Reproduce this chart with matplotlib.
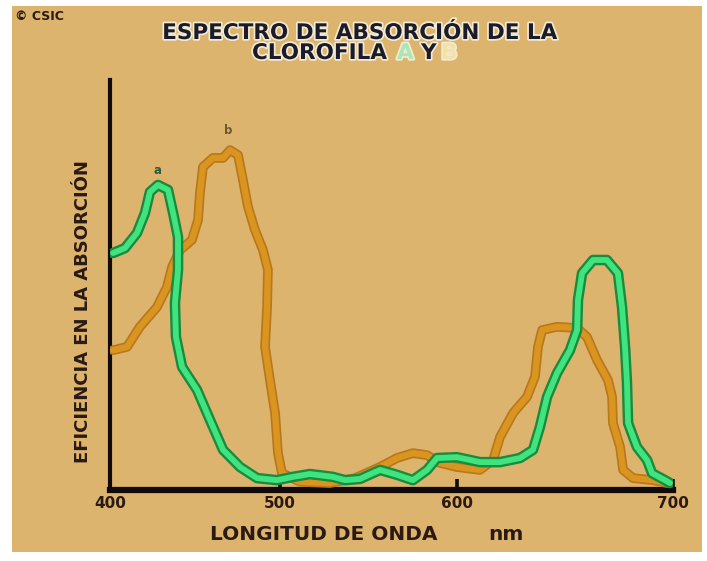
# =========================================================
# ESPECTRO DE ABSORCION DE LA CLOROFILA A Y B
# =========================================================

import numpy as np
import matplotlib
matplotlib.use("Agg")
import matplotlib.pyplot as plt
import matplotlib.patheffects as pe
from matplotlib.patches import Rectangle

# =========================================================
# DATA (wavelength in nm, arbitrary efficiency)
# =========================================================

chl_a_nm = [401.8, 408.8, 415.9, 420.6, 423.5, 428.2, 434.1, 437.1, 440.0, 440.0,
            438.2, 438.8, 442.4, 451.2, 458.8, 466.5, 476.5, 486.5, 498.2, 507.3,
            516.9, 529.9, 536.7, 545.2, 556.5, 566.1, 575.1, 583.1, 588.7, 600.0,
            610.6, 619.9, 629.2, 635.2, 638.4, 641.7, 646.3, 652.3, 655.6, 656.0,
            657.9, 663.0, 669.4, 674.5, 676.4, 677.8, 678.7, 679.2, 683.3, 688.0,
            690.3, 696.3, 698.6]
chl_a_eff = [57.8, 59.0, 62.7, 67.6, 72.7, 74.4, 73.2, 67.6, 61.7, 53.7,
             45.6, 37.3, 30.0, 24.4, 17.1, 9.8, 5.6, 2.9, 2.4, 3.2,
             3.9, 3.2, 2.4, 2.7, 4.9, 3.7, 2.4, 4.9, 7.8, 8.0,
             6.8, 6.8, 7.8, 9.8, 15.4, 22.7, 28.5, 34.1, 39.0, 46.3,
             52.9, 56.1, 56.1, 52.9, 44.6, 34.9, 26.1, 16.3, 10.5, 7.3,
             4.1, 2.4, 1.7]

chl_b_nm = [401.8, 410.0, 417.6, 427.6, 433.5, 436.5, 441.2, 448.2, 451.8, 452.9,
            454.7, 460.6, 466.5, 470.6, 475.3, 478.2, 481.2, 485.3, 490.0, 492.9,
            492.4, 491.2, 494.1, 497.1, 498.8, 501.1, 511.3, 528.2, 542.4, 556.5,
            566.1, 575.1, 583.1, 590.4, 600.0, 610.6, 616.7, 619.9, 626.0, 632.4,
            636.1, 637.5, 639.4, 646.3, 655.6, 660.2, 664.8, 669.9, 671.8, 672.2,
            675.5, 676.9, 681.5, 690.7, 697.2]
chl_b_eff = [34.1, 34.9, 39.8, 44.6, 49.5, 54.4, 58.5, 61.0, 65.9, 72.4,
             78.8, 81.0, 81.0, 82.9, 81.7, 75.6, 69.0, 63.4, 58.5, 53.7,
             44.6, 34.9, 26.8, 18.8, 9.0, 4.1, 2.0, 1.7, 2.9, 5.6,
             7.8, 9.0, 8.5, 6.6, 5.6, 4.9, 7.3, 12.9, 18.8, 22.7,
             27.6, 34.9, 39.0, 39.8, 39.5, 37.3, 31.7, 26.8, 22.7, 16.3,
             10.5, 4.9, 2.9, 2.4, 1.7]

x_ticks = [400, 500, 600, 700]
x_tick_labels = ["400", "500", "600", "700"]

# =========================================================
# AXIS CALIBRATION (hand-drawn axis: ticks are not evenly spaced)
# =========================================================

scale_nm = np.array([0.0, 400.0, 500.0, 600.0, 700.0, 1400.0])
scale_px = np.array([-680.0, 0.0, 170.0, 347.0, 563.0, 2075.0])


def fwd(x):
    return np.interp(x, scale_nm, scale_px)


def inv(p):
    return np.interp(p, scale_px, scale_nm)


# =========================================================
# FIGURE
# =========================================================

W, H = 707, 561
fig = plt.figure(figsize=(W / 100, H / 100), dpi=100)
fig.patch.set_facecolor("white")

paper = "#DDB46E"
ink = "#2A1A12"
fig.patches.append(Rectangle((12 / W, 9 / H), 690 / W, 546 / H,
                             transform=fig.transFigure, facecolor=paper,
                             edgecolor="none", zorder=-5))

ax = fig.add_axes([110 / W, (H - 490) / H, 563 / W, 410 / H])
ax.set_facecolor("none")
ax.set_zorder(2)
ax.set_xscale("function", functions=(fwd, inv))
ax.set_xlim(400, 700)
ax.set_ylim(0, 100)

# orange first, green drawn on top
ax.plot(chl_b_nm, chl_b_eff, color="#DA9420", lw=4.6,
        solid_joinstyle="round", solid_capstyle="round",
        path_effects=[pe.Stroke(linewidth=7.0, foreground="#B8771B"), pe.Normal()],
        zorder=3)
ax.plot(chl_a_nm, chl_a_eff, color="#3FE47E", lw=4.2,
        solid_joinstyle="round", solid_capstyle="round",
        path_effects=[pe.Stroke(linewidth=7.6, foreground="#1B8A3E"), pe.Normal()],
        zorder=4)

# peak letters
ax.text(428.2, 78.0, "a", ha="center", va="center", fontsize=8.5,
        fontweight="bold", color="#2E5B3C", zorder=5)
ax.text(469.5, 87.6, "b", ha="center", va="center", fontsize=8.5,
        fontweight="bold", color="#6E5A2E", zorder=5)

# =========================================================
# AXES STYLE
# =========================================================

for s in ["top", "right"]:
    ax.spines[s].set_visible(False)
ax.spines["left"].set_linewidth(3.0)
ax.spines["bottom"].set_linewidth(4.5)
ax.spines["left"].set_color("#120A08")
ax.spines["bottom"].set_color("#120A08")

ax.set_xticks(x_ticks)
ax.set_xticklabels(x_tick_labels)
ax.set_yticks([])
ax.tick_params(axis="x", direction="in", length=8, width=2.6,
               color="#120A08", pad=4, labelsize=11, labelcolor=ink)
for lab in ax.get_xticklabels():
    lab.set_fontweight("bold")
ax.xaxis.get_major_ticks()[0].tick1line.set_visible(False)

# axis titles placed where the drawing has them
fig.text(210 / W, 1 - 535 / H, "LONGITUD DE ONDA", ha="left", va="center",
         fontsize=14.5, fontweight="bold", color=ink)
fig.text(488 / W, 1 - 535 / H, "nm", ha="left", va="center",
         fontsize=14.5, fontweight="bold", color=ink)
fig.text(83 / W, 1 - 312 / H, "EFICIENCIA EN LA ABSORCIÓN", ha="center",
         va="center", rotation=90, fontsize=13, fontweight="bold", color=ink)

# =========================================================
# TITLE AND CREDIT
# =========================================================

glow = [pe.withStroke(linewidth=2.5, foreground="#F3EAD2")]

fig.text(360 / W, 1 - 33 / H, "ESPECTRO DE ABSORCIÓN DE LA", ha="center",
         va="center", fontsize=15.5, fontweight="bold", color="#1B1B2A",
         path_effects=glow)

y2 = 1 - 53 / H
fig.text(252 / W, y2, "CLOROFILA", ha="left", va="center", fontsize=15.5,
         fontweight="bold", color="#1B1B2A", path_effects=glow)
fig.text(397 / W, y2, "A", ha="left", va="center", fontsize=15.5,
         fontweight="bold", color="#A8E8B8", path_effects=glow)
fig.text(421 / W, y2, "Y", ha="left", va="center", fontsize=15.5,
         fontweight="bold", color="#1B1B2A", path_effects=glow)
fig.text(441 / W, y2, "B", ha="left", va="center", fontsize=15.5,
         fontweight="bold", color="#F1E2A6", path_effects=glow)

fig.text(15 / W, 1 - 16 / H, "© CSIC", ha="left", va="center", fontsize=9,
         fontweight="bold", color=ink)

fig.savefig("out.png", dpi=100)
